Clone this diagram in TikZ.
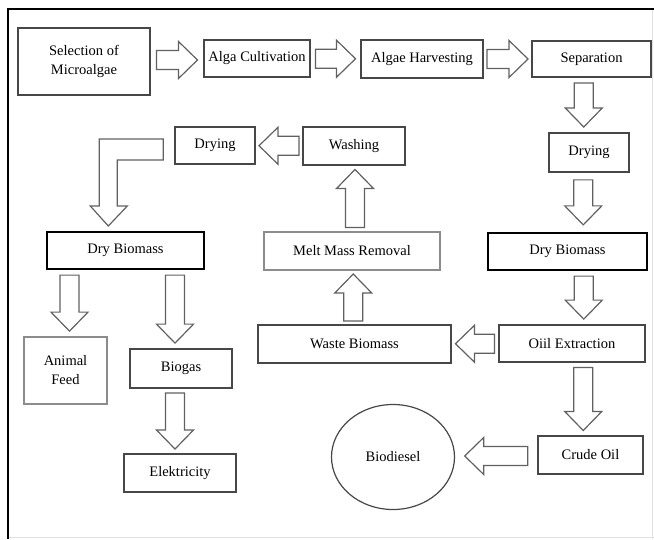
\documentclass[tikz,border=0pt]{standalone}
\usepackage{fontspec}
\setmainfont{Liberation Serif}
\usetikzlibrary{shapes.geometric, calc}

\begin{document}
\begin{tikzpicture}[
        x=1pt, y=-1pt,
        font=\fontsize{14.5}{19}\selectfont,
        stage/.style={
            draw=black!72,
            line width=1.4pt,
            fill=white,
            inner sep=0pt,
            align=center
        },
        mass/.style={stage, draw=black, line width=1.9pt},
        pale/.style={stage, draw=black!45},
        hollow/.style={draw=black!62, line width=1.2pt, fill=white, line join=miter},
        fatarrow/.pic={
            \draw[hollow] (-#1/2,-9.5) -- (#1/2-19,-9.5) -- (#1/2-19,-18.5) -- (#1/2,0)
                -- (#1/2-19,18.5) -- (#1/2-19,9.5) -- (-#1/2,9.5) -- cycle;
        }
    ]
        \useasboundingbox (0,0) rectangle (654,539);
        % Frame
        \draw[black!12, line width=0.8pt] (654,537) -- (8,537);
        \draw[black!12, line width=0.8pt] (652,9) -- (652,539);
        \draw[line width=2pt] (654,9) -- (8,9) -- (8,539);

        % Top row
        \node[stage, minimum width=132, minimum height=67] (sel) at (84,61.5) {Selection of\\Microalgae};
        \node[stage, minimum width=106, minimum height=37] (cult) at (257,58.5) {Alga Cultivation};
        \node[stage, minimum width=122, minimum height=38] (harv) at (422,59) {Algae Harvesting};
        \node[stage, minimum width=119, minimum height=36] (sep) at (591.5,59) {Separation};

        % Right column
        \node[stage, minimum width=80, minimum height=39] (dryR) at (589,152.5) {Drying};
        \node[mass, minimum width=159, minimum height=37] (dbR) at (567.5,251.5) {Dry Biomass};
        \node[stage, minimum width=146, minimum height=37] (oil) at (572,343.5) {Oiil Extraction};
        \node[stage, minimum width=105, minimum height=38] (crude) at (590.5,455) {Crude Oil};
        \node[ellipse, draw=black!72, line width=1.2pt, minimum width=123, minimum height=105, inner sep=0pt] (bio) at (393,457) {Biodiesel};

        % Middle column
        \node[stage, minimum width=193, minimum height=38] (waste) at (354.5,344) {Waste Biomass};
        \node[pale, minimum width=176, minimum height=38] (melt) at (352,251) {Melt Mass Removal};
        \node[stage, minimum width=102, minimum height=38] (wash) at (354,146) {Washing};
        \node[stage, minimum width=80, minimum height=37] (dryL) at (215,145.5) {Drying};

        % Left column
        \node[mass, minimum width=157, minimum height=37] (dbL) at (125.5,250.5) {Dry Biomass};
        \node[pale, minimum width=83, minimum height=67] (feed) at (65.5,370.5) {Animal\\Feed};
        \node[stage, minimum width=102, minimum height=39] (gas) at (181,368.5) {Biogas};
        \node[stage, minimum width=112, minimum height=38] (elec) at (180,473) {Elektricity};

        % Block arrows
        \pic at ($(sel.east)!.5!(cult.west)$) {fatarrow=41};
        \pic at ($(cult.east)!.5!(harv.west)$) {fatarrow=40};
        \pic at ($(harv.east)!.5!(sep.west)$) {fatarrow=41};
        \pic[rotate=-90] at ($(sep.south)!.5!(dryR.north)+(-6.5,0)$) {fatarrow=44};
        \pic[rotate=-90] at ($(dryR.south)!.5!(dbR.north)+(5,0)$) {fatarrow=45};
        \pic[rotate=-90] at ($(dbR.south)!.5!(oil.north)+(14,0)$) {fatarrow=43};
        \pic[rotate=-90] at ($(oil.south)!.5!(crude.north)+(2,0)$) {fatarrow=63};
        \pic[rotate=180] at ($(crude.west)!.5!(bio.east)$) {fatarrow=63};
        \pic[rotate=180] at ($(oil.west)!.5!(waste.east)$) {fatarrow=39};
        \pic[rotate=90] at ($(waste.north)!.5!(melt.south)$) {fatarrow=47};
        \pic[rotate=90] at ($(melt.north)!.5!(wash.south)+(2,0)$) {fatarrow=58};
        \pic[rotate=180] at ($(wash.west)!.5!(dryL.east)$) {fatarrow=40};
        \pic[rotate=-90] at ($(dbL.south -| feed.north)!.5!(feed.north)+(4,0)$) {fatarrow=56};
        \pic[rotate=-90] at ($(dbL.south -| gas.north)!.5!(gas.north)+(-6,0)$) {fatarrow=68};
        \pic[rotate=-90] at ($(gas.south)!.5!(elec.north)+(-5.5,0)$) {fatarrow=56};

        % Bent arrow from Drying down to Dry Biomass
        \draw[hollow]
            ($(dryL.west)+(-11,-6.5)$) -- ++(-64,0) -- ++(0,67) -- ++(-9,0) -- ++(18,20)
            -- ++(19,-20) -- ++(-10,0) -- ++(0,-46) -- ++(46,0) -- cycle;
    \end{tikzpicture}
\end{document}
